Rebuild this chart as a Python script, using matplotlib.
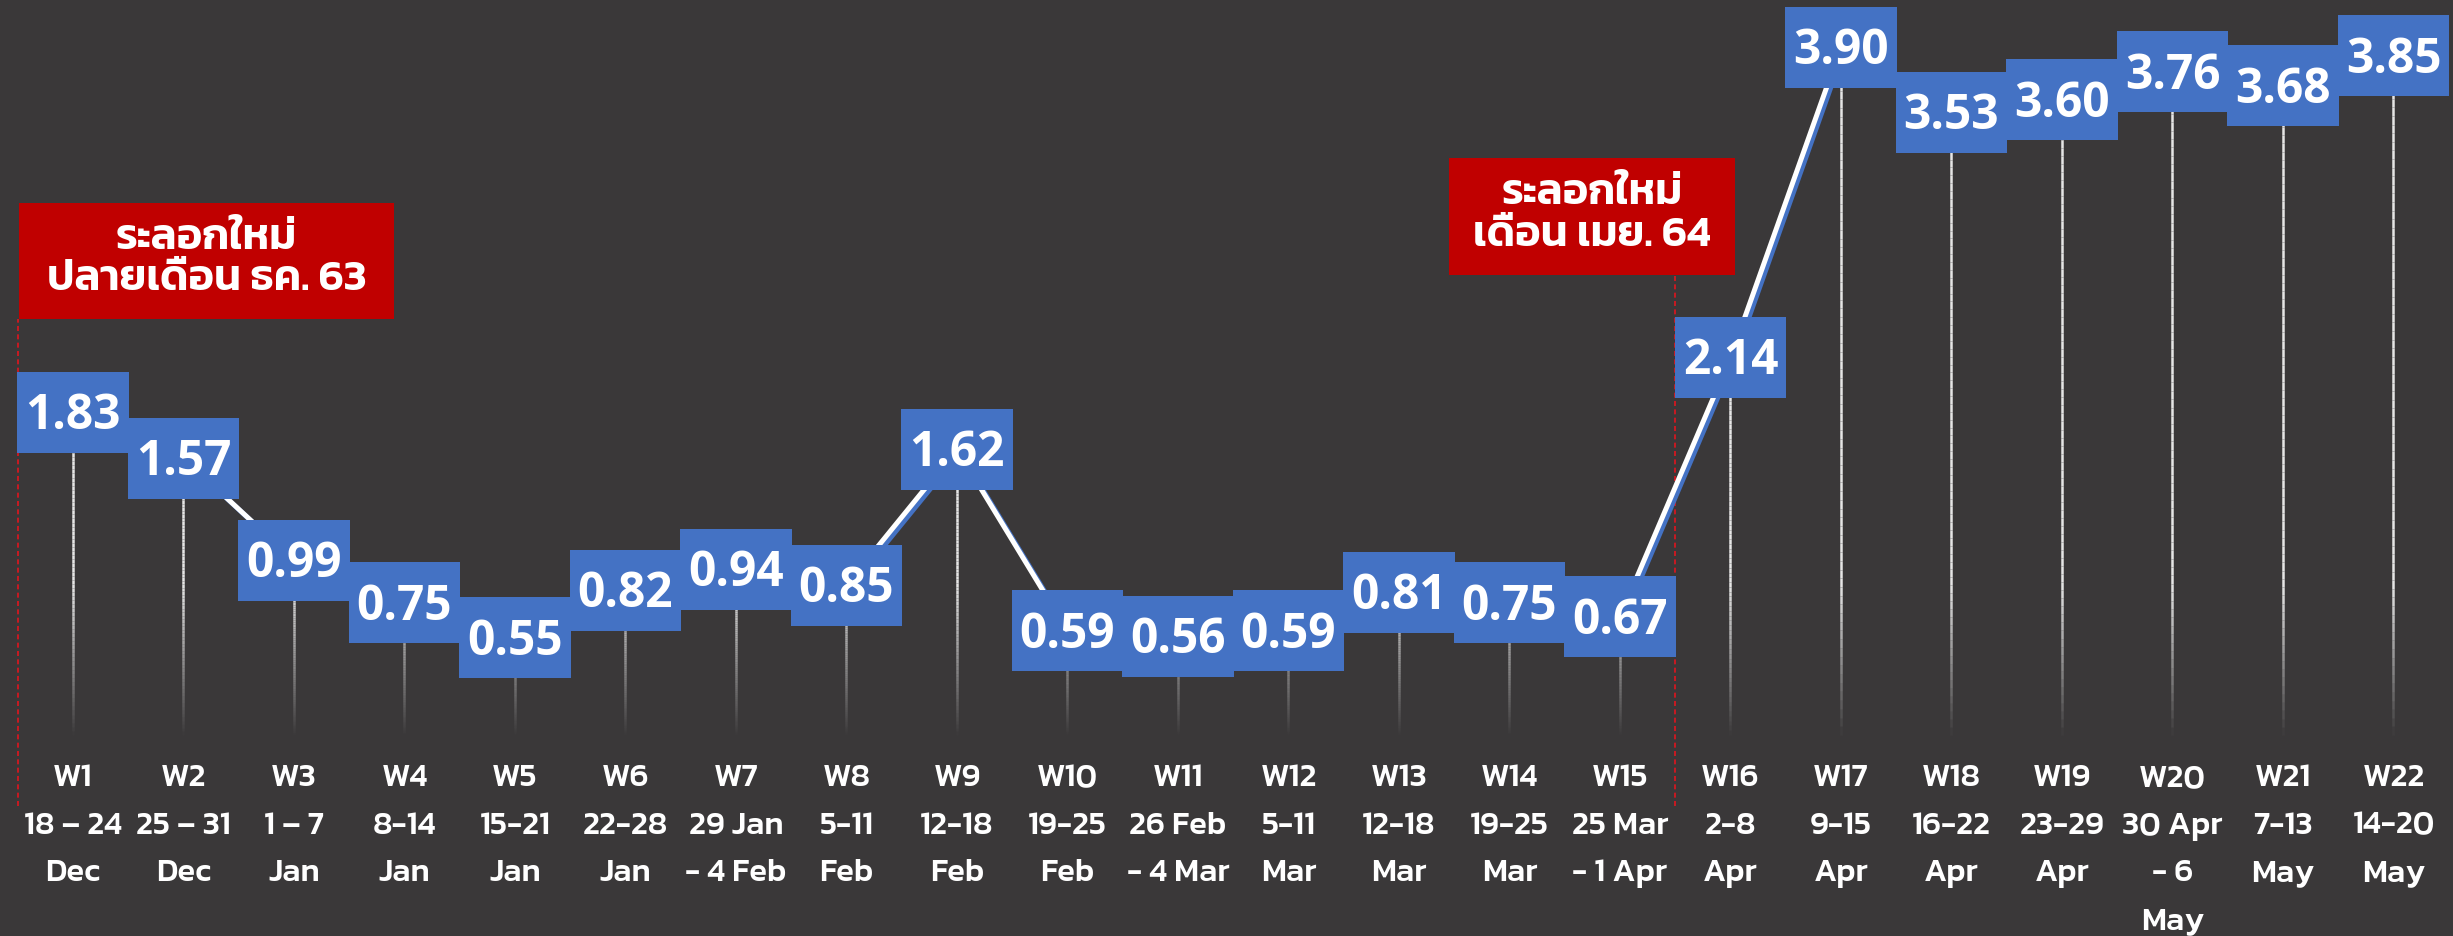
import numpy as np
import matplotlib
matplotlib.use('Agg')
import matplotlib.pyplot as plt
import matplotlib.patheffects as pe
import matplotlib.transforms as mtransforms
from matplotlib.patches import Rectangle
from matplotlib.collections import LineCollection

# ---------------- data ----------------
weeks = ["W1", "W2", "W3", "W4", "W5", "W6", "W7", "W8", "W9", "W10", "W11",
         "W12", "W13", "W14", "W15", "W16", "W17", "W18", "W19", "W20", "W21", "W22"]
ranges = ["18 – 24", "25 – 31", "1 – 7", "8-14", "15-21", "22-28", "29 Jan", "5-11",
          "12-18", "19-25", "26 Feb", "5-11", "12-18", "19-25", "25 Mar", "2-8",
          "9-15", "16-22", "23-29", "30 Apr", "7-13", "14-20"]
months = ["Dec", "Dec", "Jan", "Jan", "Jan", "Jan", "- 4 Feb", "Feb", "Feb", "Feb",
          "- 4 Mar", "Mar", "Mar", "Mar", "- 1 Apr", "Apr", "Apr", "Apr", "Apr",
          "- 6\nMay", "May", "May"]
values = [1.83, 1.57, 0.99, 0.75, 0.55, 0.82, 0.94, 0.85, 1.62, 0.59, 0.56,
          0.59, 0.81, 0.75, 0.67, 2.14, 3.90, 3.53, 3.60, 3.76, 3.68, 3.85]
wave_texts = ["ระลอกใหม่\nปลายเดือน ธค. 63", "ระลอกใหม่\nเดือน เมย. 64"]
wave_start_idx = [0, 15]

# ---------------- style ----------------
BG = "#3a3839"
BLUE = "#4472c4"
RED = "#c00000"
W, H, DPI = 2453, 936, 100

fig = plt.figure(figsize=(W / DPI, H / DPI), dpi=DPI, facecolor=BG)
ax_bottom_px = 750
ax = fig.add_axes([0, (H - ax_bottom_px) / H, 1, ax_bottom_px / H])
ax.set_facecolor(BG)

x0_px, dx_px = 73, 110.5          # layout of categories
zero_px, unit_px = 735, 176.4     # layout of y scale (from top)
ax.set_xlim(-x0_px / dx_px, (W - x0_px) / dx_px)
ax.set_ylim(-(ax_bottom_px - zero_px) / unit_px, zero_px / unit_px)

x = np.arange(len(values))
vals = np.array(values)

# fading drop lines
segs, cols = [], []
for xi, v in zip(x, vals):
    ys = np.linspace(0, v, 80)
    for a, b in zip(ys[:-1], ys[1:]):
        segs.append([(xi, a), (xi, b)])
        al = float(np.clip((a + b) / 2 / 0.85, 0, 1))
        cols.append((0.9, 0.9, 0.9, al))
ax.add_collection(LineCollection(segs, colors=cols, linewidths=1.8, zorder=2))

# main line with blue offset shadow
ax.plot(x, vals, color="white", lw=3.6, zorder=3, solid_capstyle="round",
        path_effects=[pe.SimpleLineShadow(offset=(2.2, -2.2), shadow_color=BLUE, alpha=1.0),
                      pe.Normal()])


def px_rect(xc, yc, wpx, hpx, color, z):
    tr = fig.dpi_scale_trans + mtransforms.ScaledTranslation(xc, yc, ax.transData)
    r = Rectangle((-wpx / 2 / DPI, -hpx / 2 / DPI), wpx / DPI, hpx / DPI,
                  transform=tr, facecolor=color, edgecolor="none", zorder=z, clip_on=False)
    ax.add_patch(r)


# value labels
texts = []
for xi, v in zip(x, vals):
    t = ax.annotate(f"{v:.2f}", (xi, v), xytext=(0, -12.2), textcoords="offset points",
                    ha="center", va="baseline", fontsize=34.5, family="Open Sans",
                    weight="bold", color="white", zorder=5)
    texts.append(t)

# value boxes sized to their text
fig.canvas.draw()
renderer = fig.canvas.get_renderer()
for t, xi, v, k in zip(texts, x, vals, range(len(vals))):
    ext = t.get_window_extent(renderer)
    px_rect(xi, v, ext.width + 16, 81, BLUE, 4 + 0.001 * k)

# wave annotation boxes + red dashed separators
box_centers = [(1.208, 2.687, 375, 116), (13.746, 2.939, 286, 117)]
for txt, idx, (cx, cy, bw, bh) in zip(wave_texts, wave_start_idx, box_centers):
    px_rect(cx, cy, bw, bh, RED, 6)
    ax.text(cx, cy + 0.01, txt, ha="center", va="center", fontsize=31, family="Kanit",
            weight=600, color="white", linespacing=1.12, zorder=7)
    ax.plot([idx - 0.5, idx - 0.5], [-0.40, cy - bh / 2 / unit_px], color="#e0141e",
            lw=1.2, ls=(0, (3, 2)), zorder=1, clip_on=False)

# x tick labels
labels = [f"{w}\n{r}\n{m}" for w, r, m in zip(weeks, ranges, months)]
ax.set_xticks(x)
ax.set_xticklabels(labels, fontsize=23.5, family="Kanit", weight=500, color="white",
                   linespacing=1.85)
ax.tick_params(axis="x", length=0, pad=10)
ax.set_yticks([])
for s in ax.spines.values():
    s.set_visible(False)

fig.savefig("out.png", dpi=DPI, facecolor=BG)
